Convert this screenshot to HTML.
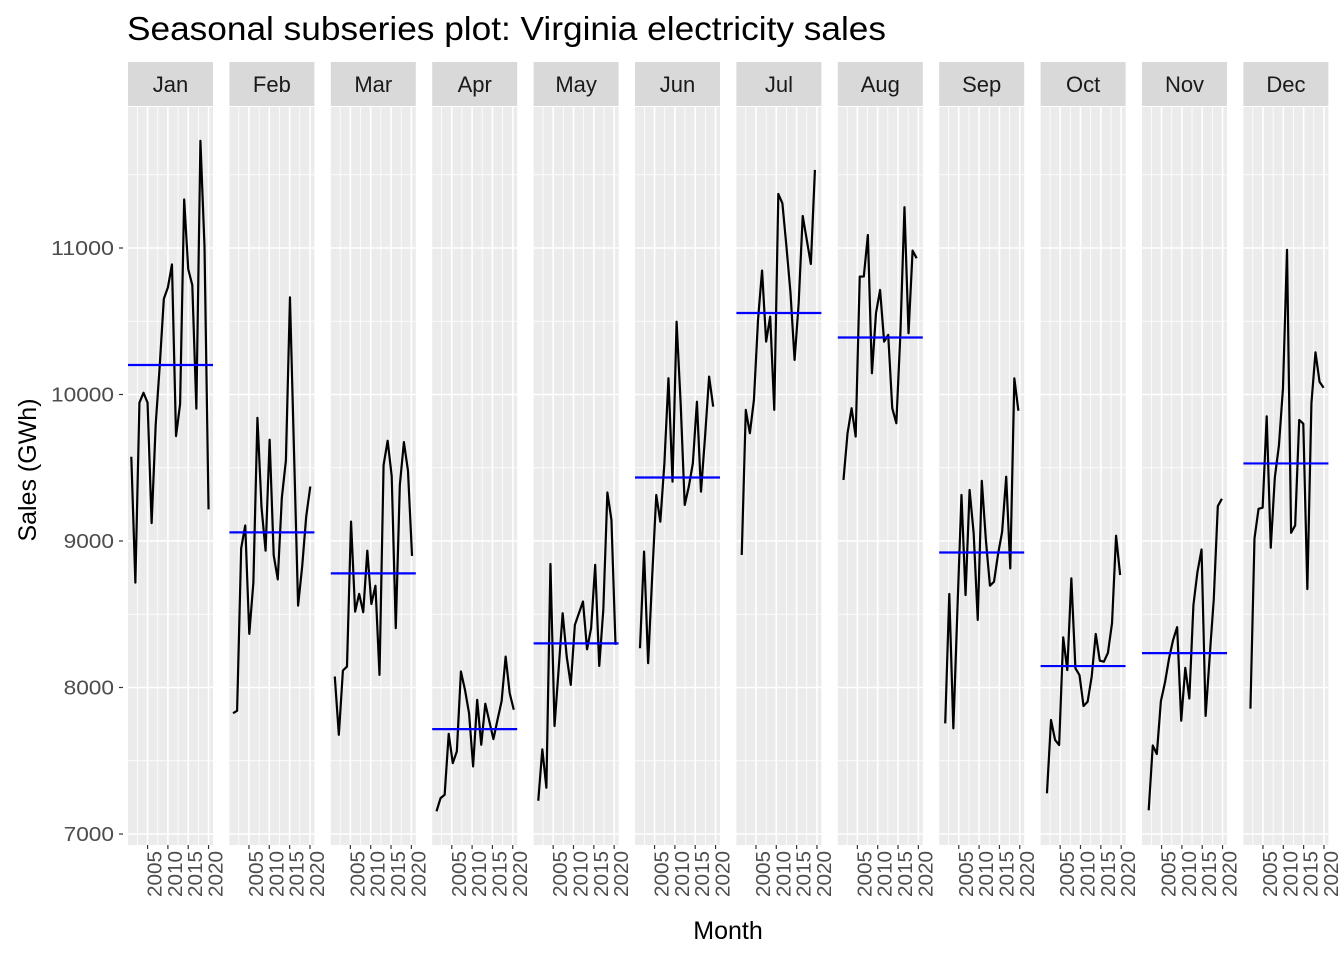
<!DOCTYPE html>
<html><head><meta charset="utf-8"><style>
body{margin:0;background:#fff}
svg{display:block;font-family:"Liberation Sans",sans-serif}
</style></head><body>
<svg id="chart" width="1344" height="960"></svg>
<script>
const months=["Jan","Feb","Mar","Apr","May","Jun","Jul","Aug","Sep","Oct","Nov","Dec"];
const startYear=2001;
const sJan=[9575,8716,9944,10012,9944,9122,9794,10200,10653,10731,10888,9716,9934,11331,10856,10747,9903,11731,11012,9216];
const sFeb=[7825,7841,8950,9106,8366,8716,9841,9231,8934,9691,8903,8738,9294,9550,10663,9606,8559,8825,9169,9372];
const sMar=[8075,7677,8116,8143,9132,8518,8639,8514,8934,8570,8695,8086,9518,9684,9443,8405,9382,9675,9480,8898];
const sApr=[7155,7245,7268,7684,7484,7564,8109,7984,7825,7461,7916,7609,7889,7768,7648,7780,7905,8211,7961,7848];
const sMay=[7227,7578,7316,8843,7737,8120,8507,8211,8018,8427,8507,8587,8261,8405,8837,8147,8530,9331,9144,8291];
const sJun=[8268,8928,8166,8757,9314,9132,9530,10111,9405,10497,9940,9246,9371,9530,9951,9337,9712,10122,9917];
const sJul=[8905,9895,9736,9963,10509,10846,10361,10532,9895,11369,11305,11009,10691,10236,10623,11219,11055,10891,11533];
const sAug=[9417,9736,9906,9713,10805,10805,11089,10145,10555,10714,10361,10407,9906,9804,10418,11278,10418,10982,10930];
const sSep=[7755,8638,7721,8529,9314,8631,9348,9052,8461,9411,9007,8695,8722,8911,9063,9439,8813,10110,9889];
const sOct=[7278,7778,7642,7607,8342,8119,8745,8131,8085,7874,7903,8074,8365,8183,8176,8237,8438,9036,8768];
const sNov=[7162,7604,7546,7907,8033,8197,8324,8412,7773,8134,7925,8563,8790,8942,7806,8210,8601,9238,9288];
const sDec=[7856,9018,9220,9227,9851,8954,9434,9649,10040,10987,9056,9106,9826,9801,8672,9940,10288,10086,10046];
const series=[sJan,sFeb,sMar,sApr,sMay,sJun,sJul,sAug,sSep,sOct,sNov,sDec];
const yTicks=[7000,8000,9000,10000,11000];
const xTicks=[2005,2010,2015,2020];

const NS="http://www.w3.org/2000/svg";
const svg=document.getElementById('chart');
function mk(tag,attrs,parent){const e=document.createElementNS(NS,tag);for(const k in attrs)e.setAttribute(k,attrs[k]);(parent||svg).appendChild(e);return e;}
const panelTop=107,panelBot=845,panelW=85,panelStep=101.4,panelLeft0=128;
function yScale(v){return 834-(v-7000)*0.1465;}
function xScale(t){return 3.3+(t-2001)*4.066;}

const title=mk('text',{x:127,y:40,'font-size':33,fill:'#000',textLength:759,lengthAdjust:'spacingAndGlyphs'});


title.textContent='Seasonal subseries plot: Virginia electricity sales';

months.forEach((m,i)=>{
  const x0=panelLeft0+i*panelStep;
  const g=mk('g',{transform:`translate(${x0},0)`});
  
  
  const strip=mk('rect',{x:0,y:62,width:panelW,height:44,fill:'#d9d9d9'},g);
  
  
  const st=mk('text',{x:panelW/2,y:92,'font-size':22,fill:'#1a1a1a','text-anchor':'middle'},g);
  
  
  st.textContent=m;
  const bg=mk('rect',{x:0,y:panelTop,width:panelW,height:panelBot-panelTop,fill:'#ebebeb'},g);
  
  
  for(let v=7500;v<=11500;v+=1000){const y=yScale(v);const l=mk('line',{x1:0,x2:panelW,y1:y,y2:y,stroke:'#fff','stroke-width':0.8},g);}
  yTicks.forEach(v=>{const y=yScale(v);const l=mk('line',{x1:0,x2:panelW,y1:y,y2:y,stroke:'#fff','stroke-width':1.6},g);});
  [2002.5,2007.5,2012.5,2017.5].forEach(t=>{const x=xScale(t);const l=mk('line',{x1:x,x2:x,y1:panelTop,y2:panelBot,stroke:'#fff','stroke-width':0.8},g);});
  xTicks.forEach(t=>{const x=xScale(t);const l=mk('line',{x1:x,x2:x,y1:panelTop,y2:panelBot,stroke:'#fff','stroke-width':1.6},g);
    const tk=mk('line',{x1:x,x2:x,y1:panelBot,y2:panelBot+4,stroke:'#333','stroke-width':1.2},g);
    const tl=mk('text',{x:0,y:0,'font-size':20,fill:'#4d4d4d','text-anchor':'end',textLength:46,lengthAdjust:'spacingAndGlyphs',transform:`translate(${x+14},${panelBot+6}) rotate(-90)`},g);
    tl.textContent=t;});
  const data=series[i];
  const pts=data.map((v,k)=>`${xScale(startYear+k+i/12).toFixed(2)},${yScale(v).toFixed(2)}`).join(' ');
  const line=mk('polyline',{points:pts,fill:'none',stroke:'#000','stroke-width':2.2,'stroke-linejoin':'round'},g);
  
  
  const mean=data.reduce((a,b)=>a+b,0)/data.length;
  const ml=mk('line',{x1:0,x2:panelW,y1:yScale(mean),y2:yScale(mean),stroke:'#0000ff','stroke-width':2.2},g);
  
  
});
yTicks.forEach(v=>{const y=yScale(v);
  const tk=mk('line',{x1:119,x2:123,y1:y,y2:y,stroke:'#333','stroke-width':1.2});
  const tl=mk('text',{x:114,y:y+7,'font-size':20,fill:'#4d4d4d','text-anchor':'end',textLength:String(v).length*12.6,lengthAdjust:'spacingAndGlyphs'});tl.textContent=v;});
const xt=mk('text',{x:728,y:939,'font-size':25,fill:'#000','text-anchor':'middle'});
xt.textContent='Month';
const yt=mk('text',{x:0,y:0,'font-size':25,fill:'#000','text-anchor':'middle',transform:'translate(36,470) rotate(-90)'});
yt.textContent='Sales (GWh)';
</script>
</body></html>
